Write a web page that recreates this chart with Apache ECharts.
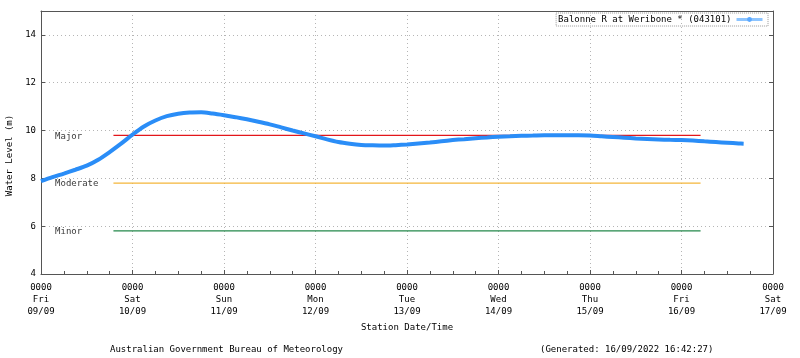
<!DOCTYPE html>
<html><head><meta charset="utf-8">
<script src="https://cdn.jsdelivr.net/npm/echarts@6/dist/echarts.min.js"></script>
<style>html,body{margin:0;padding:0;background:#fff}#c{width:800px;height:358px}</style>
</head><body><div id="c"></div>
<script>
// hours since Fri 09/09 00:00
var hours = [0, 3, 6, 9, 12, 15, 18, 21, 24, 27, 30, 33, 36, 39, 42, 45, 48, 51, 54, 57, 60, 63, 66, 69, 72, 75, 78, 81, 84, 87, 90, 93, 96, 99, 102, 105, 108, 111, 114, 117, 120, 123, 126, 129, 132, 135, 138, 141, 144, 147, 150, 153, 156, 159, 162, 165, 168, 171, 174, 177, 180, 183, 184.3];
var levels = [7.88, 8.05, 8.2, 8.36, 8.53, 8.78, 9.1, 9.45, 9.83, 10.17, 10.42, 10.6, 10.7, 10.75, 10.76, 10.71, 10.64, 10.56, 10.47, 10.37, 10.26, 10.13, 10.0, 9.88, 9.76, 9.63, 9.52, 9.45, 9.4, 9.38, 9.37, 9.39, 9.42, 9.46, 9.5, 9.55, 9.6, 9.64, 9.68, 9.71, 9.74, 9.76, 9.78, 9.79, 9.8, 9.8, 9.8, 9.8, 9.79, 9.76, 9.73, 9.7, 9.67, 9.65, 9.63, 9.61, 9.6, 9.58, 9.55, 9.52, 9.49, 9.46, 9.45];
var dayNames = ['Fri', 'Sat', 'Sun', 'Mon', 'Tue', 'Wed', 'Thu', 'Fri', 'Sat'];
var dayDates = ['09/09', '10/09', '11/09', '12/09', '13/09', '14/09', '15/09', '16/09', '17/09'];
var thresholdNames = ['Major', 'Moderate', 'Minor'];
var thresholdValues = [9.8, 7.8, 5.8];
var thresholdStart = 19;
var thresholdEnd = 173;
var thresholdLabelAt = 3.7;
var seriesName = 'Balonne R at Weribone * (043101)';
var footerLeft = 'Australian Government Bureau of Meteorology';
var footerRight = '(Generated: 16/09/2022 16:42:27)';

var thresholdColors = ['#e3161b', '#f4b63a', '#23874a'];
var mono = 'DejaVu Sans Mono';
var chart = echarts.init(document.getElementById('c'), null, {renderer: 'canvas'});

var series = [{
  name: seriesName,
  type: 'line',
  smooth: 0.3,
  data: hours.map(function (h, i) { return [h, levels[i]]; }),
  symbol: 'circle',
  symbolSize: 4,
  showSymbol: false,
  lineStyle: {color: '#2a8df7', width: 4},
  itemStyle: {color: '#2a8df7'},
  z: 5
}];
thresholdNames.forEach(function (n, i) {
  series.push({
    name: n, type: 'line', symbol: 'none', silent: true,
    data: [[thresholdStart, thresholdValues[i]], [thresholdEnd, thresholdValues[i]]],
    lineStyle: {color: thresholdColors[i], width: 1.2}, z: 3
  });
  series.push({
    name: n + ' label', type: 'scatter', symbolSize: 0, silent: true,
    data: [[thresholdLabelAt, thresholdValues[i]]],
    label: {show: true, position: 'right', distance: 0, formatter: n, color: '#000', fontFamily: mono, fontSize: 9, offset: [0, 1]}
  });
});

chart.setOption({
  backgroundColor: '#fff',
  animation: false,
  grid: {left: 41, right: 27, top: 11, bottom: 84, containLabel: false, outerBoundsMode: 'none'},
  legend: {
    data: [seriesName], right: 32, top: 13, align: 'right',
    itemWidth: 26, itemHeight: 6, itemGap: 4,
    padding: [2, 4, 2, 2],
    borderColor: '#999', borderWidth: 1, borderType: 'dotted',
    textStyle: {fontFamily: mono, fontSize: 9, color: '#000'},
    itemStyle: {color: '#5aa8ff'}, lineStyle: {color: '#8cc4ff', width: 3}
  },
  xAxis: [{
    type: 'value', min: 0, max: 192, interval: 24,
    axisLine: {lineStyle: {color: '#555', width: 1}},
    axisTick: {show: true, inside: true, length: 4, lineStyle: {color: '#555'}},
    minorTick: {show: true, splitNumber: 4, length: 3, lineStyle: {color: '#555'}},
    splitLine: {show: true, lineStyle: {color: '#b5b5b5', type: [1, 3]}},
    axisLabel: {
      margin: 8, fontFamily: mono, fontSize: 9, color: '#000', lineHeight: 12,
      formatter: function (v) { var i = Math.round(v / 24); return '0000\n' + dayNames[i] + '\n' + dayDates[i]; }
    },
    name: 'Station Date/Time', nameLocation: 'middle', nameGap: 48,
    nameTextStyle: {fontFamily: mono, fontSize: 9, color: '#000'}
  }, {
    type: 'value', position: 'top', min: 0, max: 192,
    axisLine: {show: true, onZero: false, lineStyle: {color: '#555'}},
    axisTick: {show: false}, axisLabel: {show: false}, splitLine: {show: false}
  }],
  yAxis: [{
    type: 'value', min: 4, max: 15, interval: 2,
    axisLine: {show: true, onZero: false, lineStyle: {color: '#555'}},
    axisTick: {show: true, inside: true, length: 4, lineStyle: {color: '#555'}},
    splitLine: {show: true, lineStyle: {color: '#b5b5b5', type: [1, 3]}},
    axisLabel: {margin: 5, fontFamily: mono, fontSize: 9, color: '#000', formatter: function (v) { return v === 15 ? '' : String(v); }},
    name: 'Water Level (m)', nameLocation: 'middle', nameGap: 26,
    nameTextStyle: {fontFamily: mono, fontSize: 9, color: '#000', padding: [0, 26, 0, 0]}
  }, {
    type: 'value', position: 'right', min: 4, max: 15, interval: 2,
    axisLine: {show: true, onZero: false, lineStyle: {color: '#555'}},
    axisTick: {show: true, inside: true, length: 4, lineStyle: {color: '#555'}},
    axisLabel: {show: false}, splitLine: {show: false}
  }],
  graphic: [
    {type: 'text', left: 110, top: 345, style: {text: footerLeft, font: '9px "DejaVu Sans Mono"', fill: '#000'}},
    {type: 'text', left: 540, top: 345, style: {text: footerRight, font: '9px "DejaVu Sans Mono"', fill: '#000'}}
  ],
  series: series
});
</script></body></html>
